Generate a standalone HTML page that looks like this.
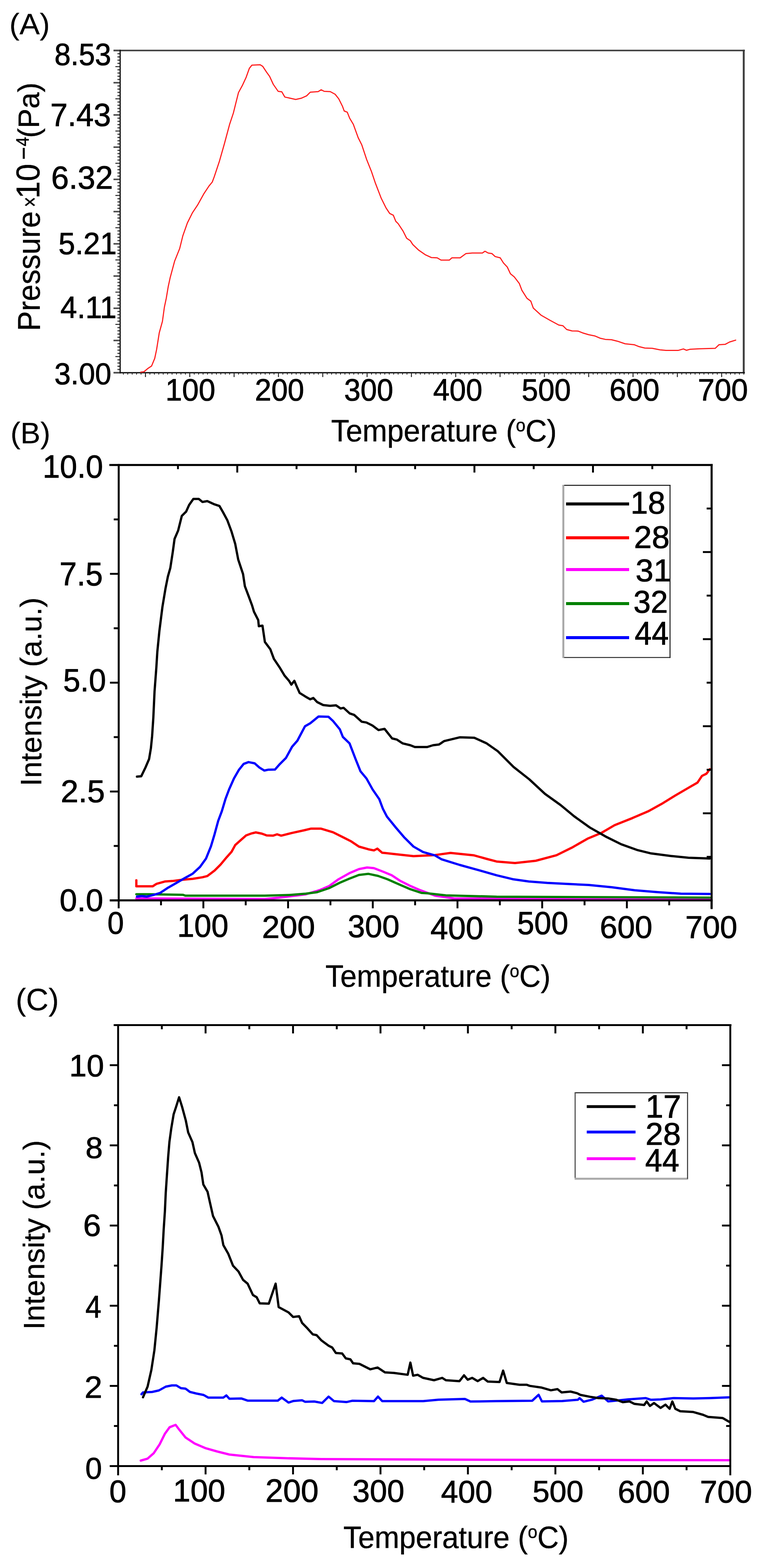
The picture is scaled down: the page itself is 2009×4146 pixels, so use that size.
<!DOCTYPE html>
<html><head><meta charset="utf-8"><title>Figure</title>
<style>
html,body{margin:0;padding:0;background:#fff;}
svg{display:block;}
text{font-family:"Liberation Sans",Arial,sans-serif;}
</style></head><body>
<svg width="2009" height="4146" viewBox="0 0 2009 4146">
<rect width="2009" height="4146" fill="#fff"/>
<rect x="300.0" y="131.5" width="1669.0" height="4.0" fill="#3c3c3c"/>
<rect x="1963.5" y="131.5" width="5.0" height="856.0" fill="#3c3c3c"/>
<rect x="316.0" y="131.5" width="3.2" height="856.0" fill="#111"/>
<rect x="300.0" y="983.8" width="1669.0" height="3.4" fill="#111"/>
<rect x="300.0" y="983.5" width="16.0" height="4.0" fill="#484848"/>
<rect x="310.5" y="975.5" width="5.5" height="3.0" fill="#3a3a3a"/>
<rect x="310.5" y="967.0" width="5.5" height="3.0" fill="#3a3a3a"/>
<rect x="310.5" y="958.4" width="5.5" height="3.0" fill="#3a3a3a"/>
<rect x="310.5" y="949.9" width="5.5" height="3.0" fill="#3a3a3a"/>
<rect x="305.0" y="941.6" width="11.0" height="2.5" fill="#222"/>
<rect x="310.5" y="932.9" width="5.5" height="3.0" fill="#3a3a3a"/>
<rect x="310.5" y="924.4" width="5.5" height="3.0" fill="#3a3a3a"/>
<rect x="310.5" y="915.8" width="5.5" height="3.0" fill="#3a3a3a"/>
<rect x="310.5" y="907.3" width="5.5" height="3.0" fill="#3a3a3a"/>
<rect x="300.0" y="898.3" width="16.0" height="4.0" fill="#484848"/>
<rect x="310.5" y="890.3" width="5.5" height="3.0" fill="#3a3a3a"/>
<rect x="310.5" y="881.8" width="5.5" height="3.0" fill="#3a3a3a"/>
<rect x="310.5" y="873.2" width="5.5" height="3.0" fill="#3a3a3a"/>
<rect x="310.5" y="864.7" width="5.5" height="3.0" fill="#3a3a3a"/>
<rect x="305.0" y="856.5" width="11.0" height="2.5" fill="#222"/>
<rect x="310.5" y="847.7" width="5.5" height="3.0" fill="#3a3a3a"/>
<rect x="310.5" y="839.2" width="5.5" height="3.0" fill="#3a3a3a"/>
<rect x="310.5" y="830.6" width="5.5" height="3.0" fill="#3a3a3a"/>
<rect x="310.5" y="822.1" width="5.5" height="3.0" fill="#3a3a3a"/>
<rect x="300.0" y="813.1" width="16.0" height="4.0" fill="#484848"/>
<rect x="310.5" y="805.1" width="5.5" height="3.0" fill="#3a3a3a"/>
<rect x="310.5" y="796.6" width="5.5" height="3.0" fill="#3a3a3a"/>
<rect x="310.5" y="788.0" width="5.5" height="3.0" fill="#3a3a3a"/>
<rect x="310.5" y="779.5" width="5.5" height="3.0" fill="#3a3a3a"/>
<rect x="305.0" y="771.2" width="11.0" height="2.5" fill="#222"/>
<rect x="310.5" y="762.5" width="5.5" height="3.0" fill="#3a3a3a"/>
<rect x="310.5" y="754.0" width="5.5" height="3.0" fill="#3a3a3a"/>
<rect x="310.5" y="745.4" width="5.5" height="3.0" fill="#3a3a3a"/>
<rect x="310.5" y="736.9" width="5.5" height="3.0" fill="#3a3a3a"/>
<rect x="300.0" y="727.9" width="16.0" height="4.0" fill="#484848"/>
<rect x="310.5" y="719.9" width="5.5" height="3.0" fill="#3a3a3a"/>
<rect x="310.5" y="711.4" width="5.5" height="3.0" fill="#3a3a3a"/>
<rect x="310.5" y="702.8" width="5.5" height="3.0" fill="#3a3a3a"/>
<rect x="310.5" y="694.3" width="5.5" height="3.0" fill="#3a3a3a"/>
<rect x="305.0" y="686.0" width="11.0" height="2.5" fill="#222"/>
<rect x="310.5" y="677.3" width="5.5" height="3.0" fill="#3a3a3a"/>
<rect x="310.5" y="668.8" width="5.5" height="3.0" fill="#3a3a3a"/>
<rect x="310.5" y="660.2" width="5.5" height="3.0" fill="#3a3a3a"/>
<rect x="310.5" y="651.7" width="5.5" height="3.0" fill="#3a3a3a"/>
<rect x="300.0" y="642.7" width="16.0" height="4.0" fill="#484848"/>
<rect x="310.5" y="634.7" width="5.5" height="3.0" fill="#3a3a3a"/>
<rect x="310.5" y="626.2" width="5.5" height="3.0" fill="#3a3a3a"/>
<rect x="310.5" y="617.6" width="5.5" height="3.0" fill="#3a3a3a"/>
<rect x="310.5" y="609.1" width="5.5" height="3.0" fill="#3a3a3a"/>
<rect x="305.0" y="600.9" width="11.0" height="2.5" fill="#222"/>
<rect x="310.5" y="592.1" width="5.5" height="3.0" fill="#3a3a3a"/>
<rect x="310.5" y="583.6" width="5.5" height="3.0" fill="#3a3a3a"/>
<rect x="310.5" y="575.0" width="5.5" height="3.0" fill="#3a3a3a"/>
<rect x="310.5" y="566.5" width="5.5" height="3.0" fill="#3a3a3a"/>
<rect x="300.0" y="557.5" width="16.0" height="4.0" fill="#484848"/>
<rect x="310.5" y="549.5" width="5.5" height="3.0" fill="#3a3a3a"/>
<rect x="310.5" y="541.0" width="5.5" height="3.0" fill="#3a3a3a"/>
<rect x="310.5" y="532.4" width="5.5" height="3.0" fill="#3a3a3a"/>
<rect x="310.5" y="523.9" width="5.5" height="3.0" fill="#3a3a3a"/>
<rect x="305.0" y="515.6" width="11.0" height="2.5" fill="#222"/>
<rect x="310.5" y="506.9" width="5.5" height="3.0" fill="#3a3a3a"/>
<rect x="310.5" y="498.4" width="5.5" height="3.0" fill="#3a3a3a"/>
<rect x="310.5" y="489.8" width="5.5" height="3.0" fill="#3a3a3a"/>
<rect x="310.5" y="481.3" width="5.5" height="3.0" fill="#3a3a3a"/>
<rect x="300.0" y="472.3" width="16.0" height="4.0" fill="#484848"/>
<rect x="310.5" y="464.3" width="5.5" height="3.0" fill="#3a3a3a"/>
<rect x="310.5" y="455.8" width="5.5" height="3.0" fill="#3a3a3a"/>
<rect x="310.5" y="447.2" width="5.5" height="3.0" fill="#3a3a3a"/>
<rect x="310.5" y="438.7" width="5.5" height="3.0" fill="#3a3a3a"/>
<rect x="305.0" y="430.5" width="11.0" height="2.5" fill="#222"/>
<rect x="310.5" y="421.7" width="5.5" height="3.0" fill="#3a3a3a"/>
<rect x="310.5" y="413.2" width="5.5" height="3.0" fill="#3a3a3a"/>
<rect x="310.5" y="404.6" width="5.5" height="3.0" fill="#3a3a3a"/>
<rect x="310.5" y="396.1" width="5.5" height="3.0" fill="#3a3a3a"/>
<rect x="300.0" y="387.1" width="16.0" height="4.0" fill="#484848"/>
<rect x="310.5" y="379.1" width="5.5" height="3.0" fill="#3a3a3a"/>
<rect x="310.5" y="370.6" width="5.5" height="3.0" fill="#3a3a3a"/>
<rect x="310.5" y="362.0" width="5.5" height="3.0" fill="#3a3a3a"/>
<rect x="310.5" y="353.5" width="5.5" height="3.0" fill="#3a3a3a"/>
<rect x="305.0" y="345.2" width="11.0" height="2.5" fill="#222"/>
<rect x="310.5" y="336.5" width="5.5" height="3.0" fill="#3a3a3a"/>
<rect x="310.5" y="328.0" width="5.5" height="3.0" fill="#3a3a3a"/>
<rect x="310.5" y="319.4" width="5.5" height="3.0" fill="#3a3a3a"/>
<rect x="310.5" y="310.9" width="5.5" height="3.0" fill="#3a3a3a"/>
<rect x="300.0" y="301.9" width="16.0" height="4.0" fill="#484848"/>
<rect x="310.5" y="293.9" width="5.5" height="3.0" fill="#3a3a3a"/>
<rect x="310.5" y="285.4" width="5.5" height="3.0" fill="#3a3a3a"/>
<rect x="310.5" y="276.8" width="5.5" height="3.0" fill="#3a3a3a"/>
<rect x="310.5" y="268.3" width="5.5" height="3.0" fill="#3a3a3a"/>
<rect x="305.0" y="260.0" width="11.0" height="2.5" fill="#222"/>
<rect x="310.5" y="251.3" width="5.5" height="3.0" fill="#3a3a3a"/>
<rect x="310.5" y="242.8" width="5.5" height="3.0" fill="#3a3a3a"/>
<rect x="310.5" y="234.2" width="5.5" height="3.0" fill="#3a3a3a"/>
<rect x="310.5" y="225.7" width="5.5" height="3.0" fill="#3a3a3a"/>
<rect x="300.0" y="216.7" width="16.0" height="4.0" fill="#484848"/>
<rect x="310.5" y="208.7" width="5.5" height="3.0" fill="#3a3a3a"/>
<rect x="310.5" y="200.2" width="5.5" height="3.0" fill="#3a3a3a"/>
<rect x="310.5" y="191.6" width="5.5" height="3.0" fill="#3a3a3a"/>
<rect x="310.5" y="183.1" width="5.5" height="3.0" fill="#3a3a3a"/>
<rect x="305.0" y="174.9" width="11.0" height="2.5" fill="#222"/>
<rect x="310.5" y="166.1" width="5.5" height="3.0" fill="#3a3a3a"/>
<rect x="310.5" y="157.6" width="5.5" height="3.0" fill="#3a3a3a"/>
<rect x="310.5" y="149.0" width="5.5" height="3.0" fill="#3a3a3a"/>
<rect x="310.5" y="140.5" width="5.5" height="3.0" fill="#3a3a3a"/>
<rect x="300.0" y="131.5" width="16.0" height="4.0" fill="#484848"/>
<rect x="324.9" y="986.0" width="2.2" height="4.5" fill="#222"/>
<rect x="336.6" y="986.0" width="2.2" height="4.5" fill="#222"/>
<rect x="348.3" y="986.0" width="2.2" height="4.5" fill="#222"/>
<rect x="360.0" y="986.0" width="2.2" height="4.5" fill="#222"/>
<rect x="371.7" y="986.0" width="2.2" height="4.5" fill="#222"/>
<rect x="383.3" y="986.0" width="2.5" height="11.0" fill="#222"/>
<rect x="395.2" y="986.0" width="2.2" height="4.5" fill="#222"/>
<rect x="406.9" y="986.0" width="2.2" height="4.5" fill="#222"/>
<rect x="418.6" y="986.0" width="2.2" height="4.5" fill="#222"/>
<rect x="430.3" y="986.0" width="2.2" height="4.5" fill="#222"/>
<rect x="442.0" y="986.0" width="2.2" height="4.5" fill="#222"/>
<rect x="453.7" y="986.0" width="2.2" height="4.5" fill="#222"/>
<rect x="465.5" y="986.0" width="2.2" height="4.5" fill="#222"/>
<rect x="477.2" y="986.0" width="2.2" height="4.5" fill="#222"/>
<rect x="488.9" y="986.0" width="2.2" height="4.5" fill="#222"/>
<rect x="500.4" y="986.0" width="2.5" height="11.0" fill="#222"/>
<rect x="512.3" y="986.0" width="2.2" height="4.5" fill="#222"/>
<rect x="524.0" y="986.0" width="2.2" height="4.5" fill="#222"/>
<rect x="535.7" y="986.0" width="2.2" height="4.5" fill="#222"/>
<rect x="547.5" y="986.0" width="2.2" height="4.5" fill="#222"/>
<rect x="559.2" y="986.0" width="2.2" height="4.5" fill="#222"/>
<rect x="570.9" y="986.0" width="2.2" height="4.5" fill="#222"/>
<rect x="582.6" y="986.0" width="2.2" height="4.5" fill="#222"/>
<rect x="594.3" y="986.0" width="2.2" height="4.5" fill="#222"/>
<rect x="606.0" y="986.0" width="2.2" height="4.5" fill="#222"/>
<rect x="617.6" y="986.0" width="2.5" height="11.0" fill="#222"/>
<rect x="629.5" y="986.0" width="2.2" height="4.5" fill="#222"/>
<rect x="641.2" y="986.0" width="2.2" height="4.5" fill="#222"/>
<rect x="652.9" y="986.0" width="2.2" height="4.5" fill="#222"/>
<rect x="664.6" y="986.0" width="2.2" height="4.5" fill="#222"/>
<rect x="676.3" y="986.0" width="2.2" height="4.5" fill="#222"/>
<rect x="688.1" y="986.0" width="2.2" height="4.5" fill="#222"/>
<rect x="699.8" y="986.0" width="2.2" height="4.5" fill="#222"/>
<rect x="711.5" y="986.0" width="2.2" height="4.5" fill="#222"/>
<rect x="723.2" y="986.0" width="2.2" height="4.5" fill="#222"/>
<rect x="734.8" y="986.0" width="2.5" height="11.0" fill="#222"/>
<rect x="746.6" y="986.0" width="2.2" height="4.5" fill="#222"/>
<rect x="758.4" y="986.0" width="2.2" height="4.5" fill="#222"/>
<rect x="770.1" y="986.0" width="2.2" height="4.5" fill="#222"/>
<rect x="781.8" y="986.0" width="2.2" height="4.5" fill="#222"/>
<rect x="793.5" y="986.0" width="2.2" height="4.5" fill="#222"/>
<rect x="805.2" y="986.0" width="2.2" height="4.5" fill="#222"/>
<rect x="816.9" y="986.0" width="2.2" height="4.5" fill="#222"/>
<rect x="828.7" y="986.0" width="2.2" height="4.5" fill="#222"/>
<rect x="840.4" y="986.0" width="2.2" height="4.5" fill="#222"/>
<rect x="851.9" y="986.0" width="2.5" height="11.0" fill="#222"/>
<rect x="863.8" y="986.0" width="2.2" height="4.5" fill="#222"/>
<rect x="875.5" y="986.0" width="2.2" height="4.5" fill="#222"/>
<rect x="887.2" y="986.0" width="2.2" height="4.5" fill="#222"/>
<rect x="899.0" y="986.0" width="2.2" height="4.5" fill="#222"/>
<rect x="910.7" y="986.0" width="2.2" height="4.5" fill="#222"/>
<rect x="922.4" y="986.0" width="2.2" height="4.5" fill="#222"/>
<rect x="934.1" y="986.0" width="2.2" height="4.5" fill="#222"/>
<rect x="945.8" y="986.0" width="2.2" height="4.5" fill="#222"/>
<rect x="957.5" y="986.0" width="2.2" height="4.5" fill="#222"/>
<rect x="969.1" y="986.0" width="2.5" height="11.0" fill="#222"/>
<rect x="981.0" y="986.0" width="2.2" height="4.5" fill="#222"/>
<rect x="992.7" y="986.0" width="2.2" height="4.5" fill="#222"/>
<rect x="1004.4" y="986.0" width="2.2" height="4.5" fill="#222"/>
<rect x="1016.1" y="986.0" width="2.2" height="4.5" fill="#222"/>
<rect x="1027.8" y="986.0" width="2.2" height="4.5" fill="#222"/>
<rect x="1039.6" y="986.0" width="2.2" height="4.5" fill="#222"/>
<rect x="1051.3" y="986.0" width="2.2" height="4.5" fill="#222"/>
<rect x="1063.0" y="986.0" width="2.2" height="4.5" fill="#222"/>
<rect x="1074.7" y="986.0" width="2.2" height="4.5" fill="#222"/>
<rect x="1086.3" y="986.0" width="2.5" height="11.0" fill="#222"/>
<rect x="1098.1" y="986.0" width="2.2" height="4.5" fill="#222"/>
<rect x="1109.9" y="986.0" width="2.2" height="4.5" fill="#222"/>
<rect x="1121.6" y="986.0" width="2.2" height="4.5" fill="#222"/>
<rect x="1133.3" y="986.0" width="2.2" height="4.5" fill="#222"/>
<rect x="1145.0" y="986.0" width="2.2" height="4.5" fill="#222"/>
<rect x="1156.7" y="986.0" width="2.2" height="4.5" fill="#222"/>
<rect x="1168.4" y="986.0" width="2.2" height="4.5" fill="#222"/>
<rect x="1180.2" y="986.0" width="2.2" height="4.5" fill="#222"/>
<rect x="1191.9" y="986.0" width="2.2" height="4.5" fill="#222"/>
<rect x="1203.4" y="986.0" width="2.5" height="11.0" fill="#222"/>
<rect x="1215.3" y="986.0" width="2.2" height="4.5" fill="#222"/>
<rect x="1227.0" y="986.0" width="2.2" height="4.5" fill="#222"/>
<rect x="1238.7" y="986.0" width="2.2" height="4.5" fill="#222"/>
<rect x="1250.5" y="986.0" width="2.2" height="4.5" fill="#222"/>
<rect x="1262.2" y="986.0" width="2.2" height="4.5" fill="#222"/>
<rect x="1273.9" y="986.0" width="2.2" height="4.5" fill="#222"/>
<rect x="1285.6" y="986.0" width="2.2" height="4.5" fill="#222"/>
<rect x="1297.3" y="986.0" width="2.2" height="4.5" fill="#222"/>
<rect x="1309.0" y="986.0" width="2.2" height="4.5" fill="#222"/>
<rect x="1320.6" y="986.0" width="2.5" height="11.0" fill="#222"/>
<rect x="1332.5" y="986.0" width="2.2" height="4.5" fill="#222"/>
<rect x="1344.2" y="986.0" width="2.2" height="4.5" fill="#222"/>
<rect x="1355.9" y="986.0" width="2.2" height="4.5" fill="#222"/>
<rect x="1367.6" y="986.0" width="2.2" height="4.5" fill="#222"/>
<rect x="1379.3" y="986.0" width="2.2" height="4.5" fill="#222"/>
<rect x="1391.1" y="986.0" width="2.2" height="4.5" fill="#222"/>
<rect x="1402.8" y="986.0" width="2.2" height="4.5" fill="#222"/>
<rect x="1414.5" y="986.0" width="2.2" height="4.5" fill="#222"/>
<rect x="1426.2" y="986.0" width="2.2" height="4.5" fill="#222"/>
<rect x="1437.8" y="986.0" width="2.5" height="11.0" fill="#222"/>
<rect x="1449.6" y="986.0" width="2.2" height="4.5" fill="#222"/>
<rect x="1461.4" y="986.0" width="2.2" height="4.5" fill="#222"/>
<rect x="1473.1" y="986.0" width="2.2" height="4.5" fill="#222"/>
<rect x="1484.8" y="986.0" width="2.2" height="4.5" fill="#222"/>
<rect x="1496.5" y="986.0" width="2.2" height="4.5" fill="#222"/>
<rect x="1508.2" y="986.0" width="2.2" height="4.5" fill="#222"/>
<rect x="1519.9" y="986.0" width="2.2" height="4.5" fill="#222"/>
<rect x="1531.7" y="986.0" width="2.2" height="4.5" fill="#222"/>
<rect x="1543.4" y="986.0" width="2.2" height="4.5" fill="#222"/>
<rect x="1554.9" y="986.0" width="2.5" height="11.0" fill="#222"/>
<rect x="1566.8" y="986.0" width="2.2" height="4.5" fill="#222"/>
<rect x="1578.5" y="986.0" width="2.2" height="4.5" fill="#222"/>
<rect x="1590.2" y="986.0" width="2.2" height="4.5" fill="#222"/>
<rect x="1602.0" y="986.0" width="2.2" height="4.5" fill="#222"/>
<rect x="1613.7" y="986.0" width="2.2" height="4.5" fill="#222"/>
<rect x="1625.4" y="986.0" width="2.2" height="4.5" fill="#222"/>
<rect x="1637.1" y="986.0" width="2.2" height="4.5" fill="#222"/>
<rect x="1648.8" y="986.0" width="2.2" height="4.5" fill="#222"/>
<rect x="1660.5" y="986.0" width="2.2" height="4.5" fill="#222"/>
<rect x="1672.1" y="986.0" width="2.5" height="11.0" fill="#222"/>
<rect x="1684.0" y="986.0" width="2.2" height="4.5" fill="#222"/>
<rect x="1695.7" y="986.0" width="2.2" height="4.5" fill="#222"/>
<rect x="1707.4" y="986.0" width="2.2" height="4.5" fill="#222"/>
<rect x="1719.1" y="986.0" width="2.2" height="4.5" fill="#222"/>
<rect x="1730.8" y="986.0" width="2.2" height="4.5" fill="#222"/>
<rect x="1742.5" y="986.0" width="2.2" height="4.5" fill="#222"/>
<rect x="1754.3" y="986.0" width="2.2" height="4.5" fill="#222"/>
<rect x="1766.0" y="986.0" width="2.2" height="4.5" fill="#222"/>
<rect x="1777.7" y="986.0" width="2.2" height="4.5" fill="#222"/>
<rect x="1789.3" y="986.0" width="2.5" height="11.0" fill="#222"/>
<rect x="1801.1" y="986.0" width="2.2" height="4.5" fill="#222"/>
<rect x="1812.8" y="986.0" width="2.2" height="4.5" fill="#222"/>
<rect x="1824.6" y="986.0" width="2.2" height="4.5" fill="#222"/>
<rect x="1836.3" y="986.0" width="2.2" height="4.5" fill="#222"/>
<rect x="1848.0" y="986.0" width="2.2" height="4.5" fill="#222"/>
<rect x="1859.7" y="986.0" width="2.2" height="4.5" fill="#222"/>
<rect x="1871.4" y="986.0" width="2.2" height="4.5" fill="#222"/>
<rect x="1883.1" y="986.0" width="2.2" height="4.5" fill="#222"/>
<rect x="1894.9" y="986.0" width="2.2" height="4.5" fill="#222"/>
<rect x="1906.4" y="986.0" width="2.5" height="11.0" fill="#222"/>
<rect x="1918.3" y="986.0" width="2.2" height="4.5" fill="#222"/>
<rect x="1930.0" y="986.0" width="2.2" height="4.5" fill="#222"/>
<rect x="1941.7" y="986.0" width="2.2" height="4.5" fill="#222"/>
<rect x="1953.4" y="986.0" width="2.2" height="4.5" fill="#222"/>
<rect x="1965.2" y="986.0" width="2.2" height="4.5" fill="#222"/>
<text transform="translate(144.08,171.90) scale(0.9499,1)" font-size="80.99" stroke="#000" stroke-width="1.2">8.53</text>
<text transform="translate(132.90,333.05) scale(0.9639,1)" font-size="85.51" stroke="#000" stroke-width="1.2">7.43</text>
<text transform="translate(135.17,498.80) scale(0.9962,1)" font-size="84.38" stroke="#000" stroke-width="1.2">6.32</text>
<text transform="translate(154.42,672.10) scale(0.9776,1)" font-size="80.99" stroke="#000" stroke-width="1.2">5.21</text>
<text transform="translate(159.60,841.20) scale(0.9739,1)" font-size="81.45" stroke="#000" stroke-width="1.2">4.11</text>
<text transform="translate(143.69,1015.65) scale(0.9690,1)" font-size="79.86" stroke="#000" stroke-width="1.2">3.00</text>
<text transform="translate(437.15,1058.80) scale(0.9738,1)" font-size="81.41" stroke="#000" stroke-width="1.2">100</text>
<text transform="translate(673.66,1058.80) scale(0.9601,1)" font-size="81.41" stroke="#000" stroke-width="1.2">200</text>
<text transform="translate(909.63,1058.80) scale(0.9564,1)" font-size="81.41" stroke="#000" stroke-width="1.2">300</text>
<text transform="translate(1144.92,1058.80) scale(0.9582,1)" font-size="81.41" stroke="#000" stroke-width="1.2">400</text>
<text transform="translate(1379.09,1058.80) scale(0.9564,1)" font-size="81.41" stroke="#000" stroke-width="1.2">500</text>
<text transform="translate(1611.10,1058.80) scale(0.9749,1)" font-size="81.41" stroke="#000" stroke-width="1.2">600</text>
<text transform="translate(1844.86,1058.80) scale(0.9749,1)" font-size="81.41" stroke="#000" stroke-width="1.2">700</text>
<text transform="translate(24.76,91.25) scale(1.0290,1)" font-size="78.07" stroke="#000" stroke-width="0.3">(A)</text>
<polyline points="372.0,984.0 380.4,983.0 390.5,974.6 400.7,967.8 409.0,947.6 414.0,924.0 421.0,880.0 429.4,849.6 434.5,812.4 439.5,788.8 444.6,758.4 449.7,734.7 461.5,690.8 475.0,657.0 483.4,623.2 495.3,589.5 508.8,562.4 522.3,542.2 539.2,511.8 552.7,491.5 561.1,481.4 566.2,467.8 579.7,427.3 593.2,380.0 606.8,329.3 616.9,298.9 623.6,271.9 630.4,244.9 640.5,226.3 650.7,204.3 659.1,180.7 665.9,172.2 687.8,171.2 694.6,175.6 704.7,190.8 712.8,202.1 722.4,223.0 735.3,241.5 744.9,242.8 752.9,256.6 767.3,259.8 781.7,263.0 796.2,259.8 810.6,253.4 820.2,243.8 841.0,242.2 849.0,237.4 857.0,241.5 873.0,242.2 885.9,249.2 895.5,261.4 905.1,280.6 909.9,293.5 918.0,296.7 924.4,312.7 934.0,328.7 946.8,364.0 956.4,383.2 969.2,421.7 982.0,453.7 991.7,482.6 1007.7,524.2 1020.5,549.9 1030.1,564.3 1039.7,569.1 1046.2,585.1 1052.6,591.5 1065.4,610.8 1075.0,630.0 1084.6,636.4 1091.0,646.4 1106.9,661.6 1123.8,673.3 1140.6,681.1 1155.7,681.8 1165.8,687.8 1187.7,687.8 1194.4,681.8 1216.3,681.8 1231.5,670.6 1248.3,669.0 1275.2,669.0 1282.0,664.3 1290.4,669.0 1300.5,670.6 1308.9,678.4 1322.3,681.8 1330.8,695.2 1340.9,706.0 1349.3,723.8 1359.4,732.2 1372.8,749.7 1379.6,767.6 1393.0,788.8 1403.1,796.2 1409.8,814.7 1430.0,833.2 1453.6,846.7 1477.2,859.5 1488.0,861.3 1498.0,871.3 1512.0,875.0 1528.0,875.4 1540.1,880.2 1556.1,885.0 1572.1,888.2 1586.2,894.2 1600.2,897.4 1616.2,898.2 1632.2,902.2 1652.3,909.0 1676.3,911.4 1688.3,916.2 1704.4,920.2 1724.4,921.0 1744.4,925.0 1760.4,926.6 1792.5,926.6 1806.5,922.6 1814.5,926.2 1824.5,923.4 1848.6,922.2 1890.7,921.0 1900.7,911.4 1916.7,910.6 1928.7,904.2 1944.7,899.4" fill="none" stroke="#ff1c1c" stroke-width="3" stroke-linejoin="round" stroke-linecap="round"/>
<polyline points="360.4,2375.6 700.0,2377.3 736.0,2373.7 808.2,2364.7 844.2,2353.9 869.5,2343.1 894.7,2325.0 923.6,2308.8 948.8,2298.0 970.5,2293.7 988.5,2295.5 1013.7,2305.2 1035.4,2314.2 1057.0,2328.6 1085.9,2343.1 1111.1,2353.9 1150.0,2368.3 1200.0,2375.5 1876.0,2377.0" fill="none" stroke="#ff00ff" stroke-width="6" stroke-linejoin="round" stroke-linecap="round"/>
<polyline points="360.4,2364.4 394.1,2364.4 483.8,2366.0 490.3,2368.3 700.0,2368.3 764.9,2366.5 808.2,2362.9 837.0,2359.3 869.5,2348.5 898.3,2334.0 923.6,2323.2 948.8,2313.5 974.1,2310.6 999.3,2316.0 1024.6,2325.0 1053.4,2337.7 1082.3,2350.3 1114.7,2361.1 1130.0,2361.9 1178.7,2367.4 1312.7,2371.0 1876.0,2373.5" fill="none" stroke="#008000" stroke-width="6" stroke-linejoin="round" stroke-linecap="round"/>
<polyline points="360.4,2327.6 360.4,2343.6 371.7,2343.6 403.7,2343.6 413.3,2337.2 435.8,2330.8 458.2,2329.2 483.8,2326.0 509.5,2323.7 535.1,2319.6 548.0,2316.3 567.2,2301.9 583.2,2285.9 599.2,2266.7 612.1,2252.2 621.7,2234.6 637.7,2220.2 650.5,2209.0 663.3,2204.2 676.2,2201.0 692.2,2204.2 705.0,2209.0 721.6,2209.6 732.5,2206.0 743.3,2209.6 772.1,2202.4 804.6,2195.2 822.6,2190.9 847.9,2190.9 880.3,2200.6 909.2,2215.0 927.2,2224.1 948.8,2238.5 974.1,2245.7 988.5,2248.6 997.5,2243.9 1010.1,2254.7 1042.6,2258.3 1093.1,2263.7 1150.0,2260.9 1190.9,2255.3 1251.8,2261.4 1286.4,2271.0 1312.7,2277.9 1361.4,2282.1 1416.2,2276.0 1471.0,2261.4 1511.7,2241.3 1553.2,2217.6 1588.8,2202.8 1624.4,2182.0 1671.8,2163.1 1713.3,2145.3 1748.9,2125.7 1784.5,2103.8 1820.0,2083.0 1843.7,2069.4 1855.6,2051.6 1867.5,2045.7 1876.4,2033.8" fill="none" stroke="#ff0000" stroke-width="6" stroke-linejoin="round" stroke-linecap="round"/>
<polyline points="362.0,2370.8 374.9,2369.2 387.7,2370.8 406.9,2366.0 423.0,2361.2 442.2,2348.4 464.6,2335.6 483.8,2324.4 509.5,2310.0 528.7,2292.3 544.7,2269.9 557.6,2237.8 567.2,2205.8 576.8,2170.5 586.4,2144.9 596.0,2112.8 605.6,2087.2 618.5,2058.3 631.3,2035.9 644.1,2019.9 656.9,2015.1 673.0,2018.3 685.8,2029.5 698.6,2037.5 708.2,2035.3 727.0,2034.7 739.7,2020.3 755.9,2004.1 772.1,1974.5 786.1,1958.5 806.2,1920.4 820.2,1912.4 842.2,1894.4 868.3,1895.2 880.3,1906.4 898.3,1928.4 906.3,1948.5 924.0,1965.6 940.0,2007.3 952.9,2039.4 968.9,2058.6 984.9,2087.4 1002.6,2113.1 1012.2,2138.7 1022.8,2159.2 1046.2,2188.0 1067.8,2213.3 1093.1,2238.5 1118.3,2252.9 1150.0,2261.9 1166.5,2271.8 1215.3,2287.0 1270.0,2302.2 1312.7,2314.4 1355.3,2324.7 1398.0,2330.8 1446.7,2334.5 1495.4,2337.0 1556.3,2340.0 1617.2,2346.0 1678.1,2354.0 1739.0,2358.9 1799.9,2363.1 1876.0,2363.7" fill="none" stroke="#0000ff" stroke-width="6" stroke-linejoin="round" stroke-linecap="round"/>
<polyline points="362.0,2053.5 373.3,2052.6 384.5,2029.5 394.1,2007.0 398.9,1978.2 402.1,1946.2 405.3,1898.0 408.5,1828.8 413.3,1764.7 415.9,1723.1 421.3,1668.6 429.4,1604.5 437.4,1556.4 443.8,1524.4 450.2,1501.9 456.6,1460.3 461.4,1425.0 471.0,1402.6 480.6,1364.1 491.9,1352.9 499.9,1335.3 511.1,1319.2 525.5,1319.2 535.1,1327.2 548.0,1325.0 567.2,1333.7 580.0,1337.8 589.6,1354.5 600.8,1375.3 612.1,1405.8 621.7,1437.8 629.7,1479.5 642.5,1518.0 647.3,1550.0 657.0,1575.6 666.5,1601.3 671.3,1617.3 682.6,1639.7 684.2,1655.8 693.8,1654.2 700.2,1697.4 714.6,1716.7 724.0,1742.1 740.1,1766.2 752.1,1786.2 764.1,1800.2 770.1,1810.3 778.1,1800.2 784.1,1814.3 792.1,1832.3 808.2,1842.3 820.2,1849.1 828.2,1845.5 838.2,1856.3 854.2,1864.3 872.3,1866.3 888.3,1865.1 900.3,1873.2 908.3,1871.6 924.4,1886.4 936.4,1890.4 956.4,1908.4 968.4,1910.4 984.5,1918.4 1000.5,1930.4 1016.5,1927.2 1036.5,1952.5 1048.6,1955.3 1064.6,1965.7 1084.6,1970.5 1096.6,1975.3 1128.7,1975.3 1144.7,1970.5 1160.7,1968.5 1173.7,1959.7 1215.2,1949.6 1253.8,1950.8 1286.4,1965.6 1316.0,1986.4 1357.5,2027.9 1399.0,2060.5 1440.5,2099.0 1482.0,2128.7 1517.6,2158.3 1559.1,2188.0 1600.6,2211.7 1642.2,2232.4 1683.6,2247.3 1719.2,2256.2 1772.6,2263.3 1820.0,2268.0 1876.0,2270.0" fill="none" stroke="#000" stroke-width="6" stroke-linejoin="round" stroke-linecap="round"/>
<rect x="289.0" y="1226.8" width="1595.0" height="5.4" fill="#000"/>
<rect x="311.2" y="1226.8" width="5.2" height="1157.0" fill="#000"/>
<rect x="1878.4" y="1226.8" width="5.4" height="1177.0" fill="#000"/>
<rect x="290.0" y="2378.0" width="1594.0" height="5.4" fill="#000"/>
<rect x="290.7" y="2378.2" width="23.0" height="5.0" fill="#000"/>
<rect x="300.7" y="2234.3" width="13.0" height="5.0" fill="#000"/>
<rect x="290.7" y="2090.4" width="23.0" height="5.0" fill="#000"/>
<rect x="300.7" y="1946.5" width="13.0" height="5.0" fill="#000"/>
<rect x="290.7" y="1802.6" width="23.0" height="5.0" fill="#000"/>
<rect x="300.7" y="1658.7" width="13.0" height="5.0" fill="#000"/>
<rect x="290.7" y="1514.8" width="23.0" height="5.0" fill="#000"/>
<rect x="300.7" y="1370.9" width="13.0" height="5.0" fill="#000"/>
<rect x="290.7" y="1227.0" width="23.0" height="5.0" fill="#000"/>
<rect x="1868.0" y="2263.1" width="11.0" height="5.0" fill="#000"/>
<rect x="1858.0" y="2148.0" width="21.0" height="5.0" fill="#000"/>
<rect x="1868.0" y="2032.8" width="11.0" height="5.0" fill="#000"/>
<rect x="1858.0" y="1917.7" width="21.0" height="5.0" fill="#000"/>
<rect x="1868.0" y="1802.6" width="11.0" height="5.0" fill="#000"/>
<rect x="1858.0" y="1687.5" width="21.0" height="5.0" fill="#000"/>
<rect x="1868.0" y="1572.4" width="11.0" height="5.0" fill="#000"/>
<rect x="1858.0" y="1457.2" width="21.0" height="5.0" fill="#000"/>
<rect x="1868.0" y="1342.1" width="11.0" height="5.0" fill="#000"/>
<rect x="467.9" y="1229.5" width="5.0" height="11.0" fill="#000"/>
<rect x="624.7" y="1229.5" width="5.0" height="20.0" fill="#000"/>
<rect x="781.4" y="1229.5" width="5.0" height="11.0" fill="#000"/>
<rect x="938.1" y="1229.5" width="5.0" height="20.0" fill="#000"/>
<rect x="1094.8" y="1229.5" width="5.0" height="11.0" fill="#000"/>
<rect x="1251.6" y="1229.5" width="5.0" height="20.0" fill="#000"/>
<rect x="1408.3" y="1229.5" width="5.0" height="11.0" fill="#000"/>
<rect x="1565.0" y="1229.5" width="5.0" height="20.0" fill="#000"/>
<rect x="1721.8" y="1229.5" width="5.0" height="11.0" fill="#000"/>
<rect x="311.2" y="2380.7" width="5.0" height="21.0" fill="#000"/>
<rect x="423.1" y="2380.7" width="5.0" height="13.0" fill="#000"/>
<rect x="535.1" y="2380.7" width="5.0" height="21.0" fill="#000"/>
<rect x="647.0" y="2380.7" width="5.0" height="13.0" fill="#000"/>
<rect x="759.0" y="2380.7" width="5.0" height="21.0" fill="#000"/>
<rect x="871.0" y="2380.7" width="5.0" height="13.0" fill="#000"/>
<rect x="982.9" y="2380.7" width="5.0" height="21.0" fill="#000"/>
<rect x="1094.8" y="2380.7" width="5.0" height="13.0" fill="#000"/>
<rect x="1206.8" y="2380.7" width="5.0" height="21.0" fill="#000"/>
<rect x="1318.8" y="2380.7" width="5.0" height="13.0" fill="#000"/>
<rect x="1430.7" y="2380.7" width="5.0" height="21.0" fill="#000"/>
<rect x="1542.7" y="2380.7" width="5.0" height="13.0" fill="#000"/>
<rect x="1654.6" y="2380.7" width="5.0" height="21.0" fill="#000"/>
<rect x="1766.5" y="2380.7" width="5.0" height="13.0" fill="#000"/>
<rect x="1878.5" y="2380.7" width="5.0" height="21.0" fill="#000"/>
<text transform="translate(112.68,1263.15) scale(0.9594,1)" font-size="85.51" stroke="#000" stroke-width="1.2">10.0</text>
<text transform="translate(157.29,1547.60) scale(0.9365,1)" font-size="87.89" stroke="#000" stroke-width="1.2">7.5</text>
<text transform="translate(166.96,1827.55) scale(0.9534,1)" font-size="85.51" stroke="#000" stroke-width="1.2">5.0</text>
<text transform="translate(160.40,2120.95) scale(1.0108,1)" font-size="83.25" stroke="#000" stroke-width="1.2">2.5</text>
<text transform="translate(157.49,2408.55) scale(0.9883,1)" font-size="83.96" stroke="#000" stroke-width="1.2">0.0</text>
<text transform="translate(283.88,2468.65) scale(0.9304,1)" font-size="83.96" stroke="#000" stroke-width="1.2">0</text>
<text transform="translate(468.50,2477.15) scale(0.9580,1)" font-size="84.66" stroke="#000" stroke-width="1.2">100</text>
<text transform="translate(692.42,2480.40) scale(1.0190,1)" font-size="82.54" stroke="#000" stroke-width="1.2">200</text>
<text transform="translate(919.27,2477.90) scale(0.9928,1)" font-size="82.54" stroke="#000" stroke-width="1.2">300</text>
<text transform="translate(1137.81,2483.30) scale(0.9953,1)" font-size="84.38" stroke="#000" stroke-width="1.2">400</text>
<text transform="translate(1367.25,2470.40) scale(0.9585,1)" font-size="84.38" stroke="#000" stroke-width="1.2">500</text>
<text transform="translate(1585.55,2479.95)" font-size="83.39" stroke="#000" stroke-width="1.2">600</text>
<text transform="translate(1811.60,2479.95) scale(0.9882,1)" font-size="83.39" stroke="#000" stroke-width="1.2">700</text>
<text transform="translate(27.66,1172.25) scale(1.0075,1)" font-size="78.50" stroke="#000" stroke-width="0.3">(B)</text>
<rect x="1489.0" y="1282.0" width="283.4" height="2.4" fill="#080808"/>
<rect x="1769.9" y="1282.0" width="2.5" height="457.7" fill="#111"/>
<rect x="1489.0" y="1737.3" width="283.4" height="2.4" fill="#222"/>
<rect x="1486.0" y="1282.0" width="3.0" height="457.7" fill="#bbb"/>
<rect x="1489.0" y="1282.0" width="2.5" height="457.7" fill="#999"/>
<line x1="1496.3" y1="1332.4" x2="1663.0" y2="1332.4" stroke="#000" stroke-width="8" stroke-linecap="butt"/>
<line x1="1496.3" y1="1422.0" x2="1663.0" y2="1422.0" stroke="#ff0000" stroke-width="8" stroke-linecap="butt"/>
<line x1="1496.3" y1="1506.0" x2="1663.0" y2="1506.0" stroke="#ff00ff" stroke-width="8" stroke-linecap="butt"/>
<line x1="1496.3" y1="1596.0" x2="1663.0" y2="1596.0" stroke="#008000" stroke-width="8" stroke-linecap="butt"/>
<line x1="1496.3" y1="1686.0" x2="1663.0" y2="1686.0" stroke="#0000ff" stroke-width="8" stroke-linecap="butt"/>
<text transform="translate(1666.71,1358.35) scale(0.9859,1)" font-size="83.96" stroke="#000" stroke-width="1.2">18</text>
<text transform="translate(1675.71,1449.35) scale(1.0097,1)" font-size="84.10" stroke="#000" stroke-width="1.2">28</text>
<text transform="translate(1680.10,1537.10) scale(1.0157,1)" font-size="83.82" stroke="#000" stroke-width="1.2">31</text>
<text transform="translate(1674.41,1620.35) scale(0.9811,1)" font-size="83.53" stroke="#000" stroke-width="1.2">32</text>
<text transform="translate(1677.75,1705.40) scale(0.9275,1)" font-size="87.27" stroke="#000" stroke-width="1.2">44</text>
<polyline points="372.0,3862.0 390.1,3856.8 406.1,3842.8 422.1,3818.8 436.1,3790.7 448.2,3773.9 464.2,3767.5 474.2,3780.7 490.2,3800.7 514.3,3816.7 542.3,3828.8 574.4,3838.0 606.4,3846.0 670.5,3852.8 750.6,3855.6 850.0,3858.0 1200.0,3859.5 1927.0,3861.0" fill="none" stroke="#ff00ff" stroke-width="6" stroke-linejoin="round" stroke-linecap="round"/>
<polyline points="374.0,3686.5 378.0,3681.7 402.1,3680.5 420.1,3676.5 438.1,3666.5 454.2,3663.3 466.2,3663.3 478.2,3670.5 490.2,3671.7 502.2,3680.5 518.3,3684.5 538.3,3688.5 550.3,3695.4 590.4,3695.4 598.4,3689.7 606.4,3698.6 638.5,3697.8 654.5,3703.4 734.6,3703.4 744.6,3695.4 762.7,3708.6 774.7,3704.6 798.7,3702.6 806.7,3706.6 830.8,3705.8 851.6,3709.6 868.5,3692.8 882.9,3704.8 916.5,3707.2 931.0,3703.8 988.7,3704.8 999.2,3692.8 1010.3,3704.8 1118.5,3704.8 1159.3,3701.0 1229.0,3699.0 1243.5,3705.8 1310.8,3704.8 1406.9,3703.8 1423.8,3688.0 1432.5,3705.5 1486.5,3704.6 1527.6,3701.2 1532.0,3696.8 1542.8,3706.4 1564.4,3701.2 1590.4,3690.3 1607.7,3705.5 1638.0,3702.5 1659.6,3700.3 1707.2,3696.8 1720.2,3701.2 1746.2,3700.3 1780.8,3696.8 1832.7,3697.7 1876.0,3696.8 1927.0,3694.7" fill="none" stroke="#0000ff" stroke-width="6" stroke-linejoin="round" stroke-linecap="round"/>
<polyline points="378.0,3694.6 390.1,3666.5 400.1,3622.4 408.1,3570.4 414.1,3510.3 420.1,3438.1 426.9,3346.8 430.1,3298.7 432.7,3250.6 435.9,3202.6 438.1,3154.5 441.3,3106.4 444.6,3058.3 447.8,3019.9 452.6,2984.6 459.0,2946.2 465.4,2926.9 473.4,2901.3 481.4,2926.9 491.0,2962.2 497.4,2994.2 508.7,3019.9 515.1,3048.7 526.3,3074.4 532.7,3100.0 537.5,3132.1 548.7,3151.3 555.1,3180.1 563.1,3215.4 577.6,3244.2 585.6,3266.7 590.4,3292.3 603.2,3314.7 616.0,3346.8 630.4,3362.0 642.5,3384.1 654.5,3394.1 668.5,3424.1 678.5,3430.1 686.5,3446.2 710.6,3447.0 728.6,3394.1 736.6,3456.2 762.7,3470.2 774.7,3482.2 790.7,3480.2 798.7,3498.2 810.7,3510.3 826.8,3528.3 836.8,3530.3 849.2,3543.8 868.5,3558.2 878.1,3563.0 887.7,3577.4 904.5,3578.8 914.1,3591.8 926.2,3594.2 933.4,3604.8 950.2,3606.3 979.0,3620.7 998.3,3615.9 1017.5,3628.8 1041.5,3630.3 1077.6,3635.1 1084.8,3602.9 1092.0,3637.5 1104.0,3635.1 1118.5,3643.3 1147.3,3649.5 1168.9,3643.3 1178.6,3649.5 1214.6,3651.9 1226.6,3636.5 1236.3,3648.1 1248.3,3643.3 1262.7,3651.9 1277.1,3643.3 1289.1,3652.9 1320.4,3654.3 1330.0,3624.0 1339.6,3656.7 1373.3,3661.5 1392.5,3661.5 1400.0,3664.4 1430.3,3668.7 1456.3,3676.1 1473.6,3673.0 1484.4,3681.7 1508.2,3679.5 1525.5,3683.9 1534.1,3688.2 1560.1,3693.4 1581.7,3696.8 1607.7,3697.7 1629.3,3701.2 1646.6,3707.6 1664.0,3705.5 1676.9,3712.0 1702.9,3715.0 1709.4,3705.5 1718.0,3717.6 1728.9,3709.8 1746.2,3722.8 1759.2,3714.1 1770.0,3725.0 1777.3,3705.5 1785.1,3725.0 1798.1,3731.5 1832.7,3733.6 1858.7,3741.0 1871.7,3746.6 1910.6,3749.6 1927.9,3759.6" fill="none" stroke="#000" stroke-width="6" stroke-linejoin="round" stroke-linecap="round"/>
<rect x="300.5" y="2708.0" width="1633.0" height="5.0" fill="#000"/>
<rect x="309.7" y="2708.0" width="5.0" height="1193.0" fill="#000"/>
<rect x="1928.0" y="2708.0" width="5.0" height="1193.0" fill="#000"/>
<rect x="290.0" y="3874.0" width="1643.0" height="5.0" fill="#000"/>
<rect x="301.2" y="3768.0" width="11.0" height="5.0" fill="#000"/>
<rect x="1919.5" y="3768.0" width="11.0" height="5.0" fill="#000"/>
<rect x="290.2" y="3662.0" width="22.0" height="5.0" fill="#000"/>
<rect x="1908.5" y="3662.0" width="22.0" height="5.0" fill="#000"/>
<rect x="301.2" y="3556.0" width="11.0" height="5.0" fill="#000"/>
<rect x="1919.5" y="3556.0" width="11.0" height="5.0" fill="#000"/>
<rect x="290.2" y="3450.0" width="22.0" height="5.0" fill="#000"/>
<rect x="1908.5" y="3450.0" width="22.0" height="5.0" fill="#000"/>
<rect x="301.2" y="3344.0" width="11.0" height="5.0" fill="#000"/>
<rect x="1919.5" y="3344.0" width="11.0" height="5.0" fill="#000"/>
<rect x="290.2" y="3238.0" width="22.0" height="5.0" fill="#000"/>
<rect x="1908.5" y="3238.0" width="22.0" height="5.0" fill="#000"/>
<rect x="301.2" y="3132.0" width="11.0" height="5.0" fill="#000"/>
<rect x="1919.5" y="3132.0" width="11.0" height="5.0" fill="#000"/>
<rect x="290.2" y="3026.0" width="22.0" height="5.0" fill="#000"/>
<rect x="1908.5" y="3026.0" width="22.0" height="5.0" fill="#000"/>
<rect x="301.2" y="2920.0" width="11.0" height="5.0" fill="#000"/>
<rect x="1919.5" y="2920.0" width="11.0" height="5.0" fill="#000"/>
<rect x="290.2" y="2814.0" width="22.0" height="5.0" fill="#000"/>
<rect x="1908.5" y="2814.0" width="22.0" height="5.0" fill="#000"/>
<rect x="425.3" y="3876.5" width="5.0" height="11.0" fill="#000"/>
<rect x="425.3" y="2710.5" width="5.0" height="11.0" fill="#000"/>
<rect x="540.9" y="3876.5" width="5.0" height="22.0" fill="#000"/>
<rect x="540.9" y="2710.5" width="5.0" height="22.0" fill="#000"/>
<rect x="656.5" y="3876.5" width="5.0" height="11.0" fill="#000"/>
<rect x="656.5" y="2710.5" width="5.0" height="11.0" fill="#000"/>
<rect x="772.1" y="3876.5" width="5.0" height="22.0" fill="#000"/>
<rect x="772.1" y="2710.5" width="5.0" height="22.0" fill="#000"/>
<rect x="887.7" y="3876.5" width="5.0" height="11.0" fill="#000"/>
<rect x="887.7" y="2710.5" width="5.0" height="11.0" fill="#000"/>
<rect x="1003.3" y="3876.5" width="5.0" height="22.0" fill="#000"/>
<rect x="1003.3" y="2710.5" width="5.0" height="22.0" fill="#000"/>
<rect x="1118.8" y="3876.5" width="5.0" height="11.0" fill="#000"/>
<rect x="1118.8" y="2710.5" width="5.0" height="11.0" fill="#000"/>
<rect x="1234.4" y="3876.5" width="5.0" height="22.0" fill="#000"/>
<rect x="1234.4" y="2710.5" width="5.0" height="22.0" fill="#000"/>
<rect x="1350.0" y="3876.5" width="5.0" height="11.0" fill="#000"/>
<rect x="1350.0" y="2710.5" width="5.0" height="11.0" fill="#000"/>
<rect x="1465.6" y="3876.5" width="5.0" height="22.0" fill="#000"/>
<rect x="1465.6" y="2710.5" width="5.0" height="22.0" fill="#000"/>
<rect x="1581.2" y="3876.5" width="5.0" height="11.0" fill="#000"/>
<rect x="1581.2" y="2710.5" width="5.0" height="11.0" fill="#000"/>
<rect x="1696.8" y="3876.5" width="5.0" height="22.0" fill="#000"/>
<rect x="1696.8" y="2710.5" width="5.0" height="22.0" fill="#000"/>
<rect x="1812.4" y="3876.5" width="5.0" height="11.0" fill="#000"/>
<rect x="1812.4" y="2710.5" width="5.0" height="11.0" fill="#000"/>
<text transform="translate(183.09,2846.15) scale(1.0078,1)" font-size="82.12" stroke="#000" stroke-width="1.2">10</text>
<text transform="translate(226.02,3061.60) scale(1.0230,1)" font-size="80.28" stroke="#000" stroke-width="1.2">8</text>
<text transform="translate(219.79,3267.60) scale(1.0375,1)" font-size="81.70" stroke="#000" stroke-width="1.2">6</text>
<text transform="translate(225.77,3484.30) scale(0.9132,1)" font-size="83.05" stroke="#000" stroke-width="1.2">4</text>
<text transform="translate(223.49,3696.45) scale(1.0264,1)" font-size="82.01" stroke="#000" stroke-width="1.2">2</text>
<text transform="translate(225.61,3909.70) scale(0.9966,1)" font-size="79.43" stroke="#000" stroke-width="1.2">0</text>
<text transform="translate(289.04,3971.95) scale(0.9735,1)" font-size="83.25" stroke="#000" stroke-width="1.2">0</text>
<text transform="translate(457.34,3970.45) scale(0.9954,1)" font-size="83.25" stroke="#000" stroke-width="1.2">100</text>
<text transform="translate(701.46,3971.45) scale(0.9972,1)" font-size="84.66" stroke="#000" stroke-width="1.2">200</text>
<text transform="translate(931.83,3970.55) scale(0.9765,1)" font-size="84.24" stroke="#000" stroke-width="1.2">300</text>
<text transform="translate(1165.66,3973.15) scale(0.9681,1)" font-size="84.24" stroke="#000" stroke-width="1.2">400</text>
<text transform="translate(1407.64,3970.65) scale(1.0024,1)" font-size="80.57" stroke="#000" stroke-width="1.2">500</text>
<text transform="translate(1633.04,3972.80) scale(1.0014,1)" font-size="82.54" stroke="#000" stroke-width="1.2">600</text>
<text transform="translate(1850.35,3972.80)" font-size="82.54" stroke="#000" stroke-width="1.2">700</text>
<text transform="translate(41.44,2671.45) scale(1.0021,1)" font-size="82.04" stroke="#000" stroke-width="0.3">(C)</text>
<rect x="1518.9" y="2888.1" width="300.0" height="2.6" fill="#1c1c1c"/>
<rect x="1518.9" y="2888.1" width="2.8" height="228.0" fill="#4a4a4a"/>
<rect x="1816.0" y="2888.1" width="2.9" height="228.0" fill="#444"/>
<rect x="1518.9" y="3114.1" width="300.0" height="5.3" fill="#aaa"/>
<rect x="1816.0" y="3114.1" width="2.9" height="2.8" fill="#333"/>
<line x1="1551.0" y1="2926.0" x2="1680.0" y2="2926.0" stroke="#000" stroke-width="7.5" stroke-linecap="butt"/>
<line x1="1551.0" y1="2993.2" x2="1680.0" y2="2993.2" stroke="#0000ff" stroke-width="7.5" stroke-linecap="butt"/>
<line x1="1551.0" y1="3063.8" x2="1680.0" y2="3063.8" stroke="#ff00ff" stroke-width="7.5" stroke-linecap="butt"/>
<text transform="translate(1706.60,2955.25)" font-size="84.36" stroke="#000" stroke-width="1.2">17</text>
<text transform="translate(1706.16,3026.75) scale(0.9987,1)" font-size="84.24" stroke="#000" stroke-width="1.2">28</text>
<text transform="translate(1705.48,3097.45) scale(0.9600,1)" font-size="84.51" stroke="#000" stroke-width="1.2">44</text>
<text transform="translate(875.23,1166.50) scale(0.9634,1)" font-size="81.45" stroke="#000" stroke-width="0.6">Temperature (<tspan font-size="47.24" dy="-25.25">o</tspan><tspan dy="25.25">C)</tspan></text>
<text transform="translate(860.34,2609.40) scale(0.9492,1)" font-size="82.47" stroke="#000" stroke-width="0.6">Temperature (<tspan font-size="47.83" dy="-25.57">o</tspan><tspan dy="25.57">C)</tspan></text>
<text transform="translate(907.54,4092.60) scale(0.9619,1)" font-size="81.45" stroke="#000" stroke-width="0.6">Temperature (<tspan font-size="47.24" dy="-25.25">o</tspan><tspan dy="25.25">C)</tspan></text>
<text transform="translate(108.80,2079.03) rotate(-90) scale(1.0112,1)" font-size="77.96" stroke="#000" stroke-width="0.6">Intensity (a.u.)</text>
<text transform="translate(117.30,3515.92) rotate(-90) scale(1.0092,1)" font-size="78.39" stroke="#000" stroke-width="0.6">Intensity (a.u.)</text>
<text transform="translate(104.60,875.39) rotate(-90) scale(0.9462,1)" font-size="83.73" stroke="#000" stroke-width="0.6">Pressure</text>
<text transform="translate(98.60,548.07) rotate(-90) scale(0.7932,1)" font-size="59.78" stroke="#000" stroke-width="0.6">×</text>
<text transform="translate(104.40,525.33) rotate(-90) scale(0.9607,1)" font-size="86.36" stroke="#000" stroke-width="0.6">10</text>
<text transform="translate(84.80,422.38) rotate(-90) scale(0.8876,1)" font-size="66.21" stroke="#000" stroke-width="0.6">−</text>
<text transform="translate(75.75,386.92) rotate(-90) scale(0.9170,1)" font-size="49.02" stroke="#000" stroke-width="0.6">4</text>
<text transform="translate(103.20,364.73) rotate(-90) scale(0.9949,1)" font-size="77.96" stroke="#000" stroke-width="0.6">(Pa)</text>
</svg>
</body></html>
